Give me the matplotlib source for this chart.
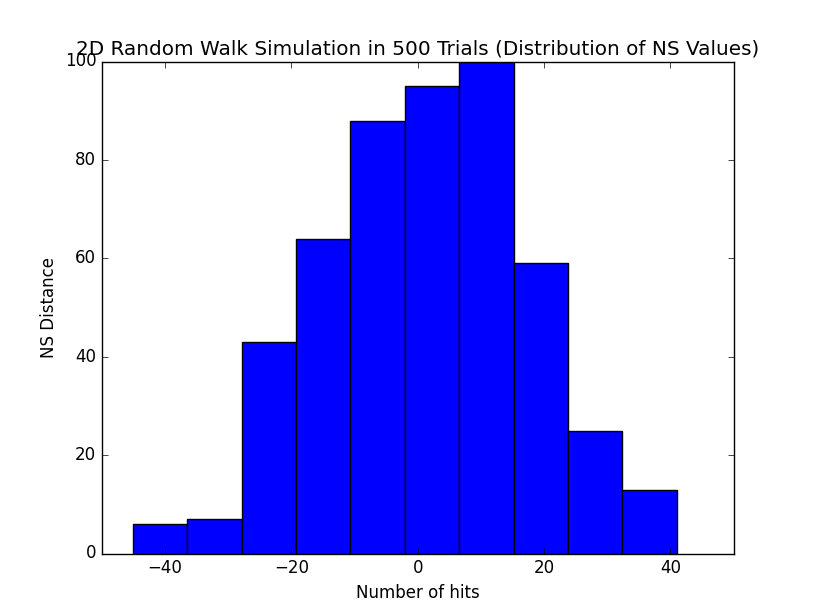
import matplotlib
matplotlib.use("Agg")
import matplotlib.pyplot as plt
import numpy as np

plt.style.use("classic")

# bin counts
counts = [6, 7, 43, 64, 88, 95, 100, 59, 25, 13]
bin_lo = -45.1
bin_hi = 41.0

edges = np.linspace(bin_lo, bin_hi, len(counts) + 1)

fig = plt.figure(figsize=(8.15, 6.15), dpi=100)
ax = fig.add_subplot(111)
ax.bar(edges[:-1], counts, width=np.diff(edges), align="edge",
       color="blue", edgecolor="black")

ax.set_xlim(-50, 50)
ax.set_ylim(0, 100)
ax.set_xlabel("Number of hits")
ax.set_ylabel("NS Distance")
ax.set_title("2D Random Walk Simulation in 500 Trials (Distribution of NS Values)")

fig.savefig("out.png", dpi=100)
